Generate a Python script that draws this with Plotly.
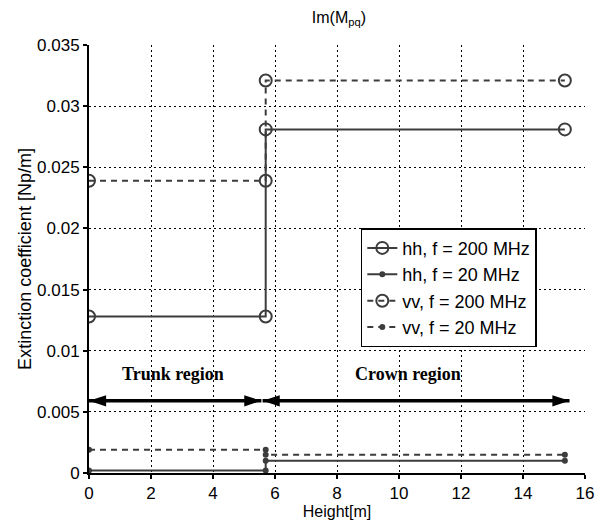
import plotly.graph_objects as go

# ---- data ----
heights = [0, 5.7, 5.7, 15.35]
hh_200 = [0.0128, 0.0128, 0.0281, 0.0281]
hh_20 = [0.0002, 0.0002, 0.0010, 0.0010]
vv_200 = [0.0239, 0.0239, 0.0321, 0.0321]
vv_20 = [0.0019, 0.0019, 0.0015, 0.0015]
series_names = ["hh, f = 200 MHz", "hh, f = 20 MHz", "vv, f = 200 MHz", "vv, f = 20 MHz"]

y_ticks = [0, 0.005, 0.01, 0.015, 0.02, 0.025, 0.03, 0.035]
y_ticklabels = ["0", "0.005", "0.01", "0.015", "0.02", "0.025", "0.03", "0.035"]
x_ticks = [0, 2, 4, 6, 8, 10, 12, 14, 16]

trunk_span = [0, 5.56]
crown_span = [5.6, 15.5]
arrow_y = 0.0059
label_y = 0.0081
trunk_label_x = 2.7
crown_label_x = 10.3

col = "#3c3c3c"
font = "Liberation Sans, Arial, sans-serif"

fig = go.Figure()
fig.add_trace(go.Scatter(x=heights, y=hh_200, name=series_names[0], mode="lines+markers",
                         line=dict(color=col, width=2),
                         marker=dict(symbol="circle-open", size=12, color=col, line=dict(width=2))))
fig.add_trace(go.Scatter(x=heights, y=hh_20, name=series_names[1], mode="lines+markers",
                         line=dict(color=col, width=2),
                         marker=dict(symbol="circle", size=6, color=col)))
fig.add_trace(go.Scatter(x=heights, y=vv_200, name=series_names[2], mode="lines+markers",
                         line=dict(color=col, width=2, dash="6px,5px"),
                         marker=dict(symbol="circle-open", size=12, color=col, line=dict(width=2))))
fig.add_trace(go.Scatter(x=heights, y=vv_20, name=series_names[3], mode="lines+markers",
                         line=dict(color=col, width=2, dash="6px,5px"),
                         marker=dict(symbol="circle", size=6, color=col)))

# double-headed region arrows
for span in (trunk_span, crown_span):
    fig.add_trace(go.Scatter(x=span, y=[arrow_y, arrow_y], mode="lines+markers", showlegend=False,
                             hoverinfo="skip", cliponaxis=False,
                             line=dict(color="black", width=3.5),
                             marker=dict(symbol="arrow", size=18, angle=[-90, 90], color="black",
                                         line=dict(width=0))))

fig.add_annotation(x=trunk_label_x, y=label_y, text="<b>Trunk region</b>", showarrow=False,
                   font=dict(family="Liberation Serif, Times New Roman, serif", size=18, color="black"))
fig.add_annotation(x=crown_label_x, y=label_y, text="<b>Crown region</b>", showarrow=False,
                   font=dict(family="Liberation Serif, Times New Roman, serif", size=18, color="black"))

fig.update_layout(
    width=609, height=529,
    margin=dict(l=89, r=24, t=45, b=52),
    paper_bgcolor="white", plot_bgcolor="white",
    font=dict(family=font, size=15, color="black"),
    title=dict(text="Im(M<sub>pq</sub>)", x=0.5565, xanchor="center", y=0.978, yanchor="top",
               font=dict(family=font, size=16, color="black")),
    showlegend=True,
    legend=dict(x=0.548, y=0.572, xanchor="left", yanchor="top",
                bordercolor="black", borderwidth=1.5, bgcolor="white",
                font=dict(family=font, size=18, color="black"),
                tracegroupgap=0, itemwidth=30),
)
fig.update_xaxes(range=[0, 16], tickvals=x_ticks, showline=True, linecolor="black", linewidth=2,
                 ticks="outside", ticklen=4, tickcolor="black", tickwidth=2,
                 showgrid=True, gridcolor="black", griddash="2px,3px", gridwidth=1.2, zeroline=False,
                 tickfont=dict(size=17), title=dict(text="Height[m]", standoff=2, font=dict(size=16)))
fig.update_yaxes(range=[0, 0.035], tickvals=y_ticks, ticktext=y_ticklabels, showline=True,
                 linecolor="black", linewidth=2, ticks="outside", ticklen=4, tickcolor="black", tickwidth=2,
                 showgrid=True, gridcolor="black", griddash="2px,3px", gridwidth=1.2, zeroline=False,
                 tickfont=dict(size=17), title=dict(text="Extinction coefficient [Np/m]", standoff=1, font=dict(size=18)))

fig.write_html("out.html")
